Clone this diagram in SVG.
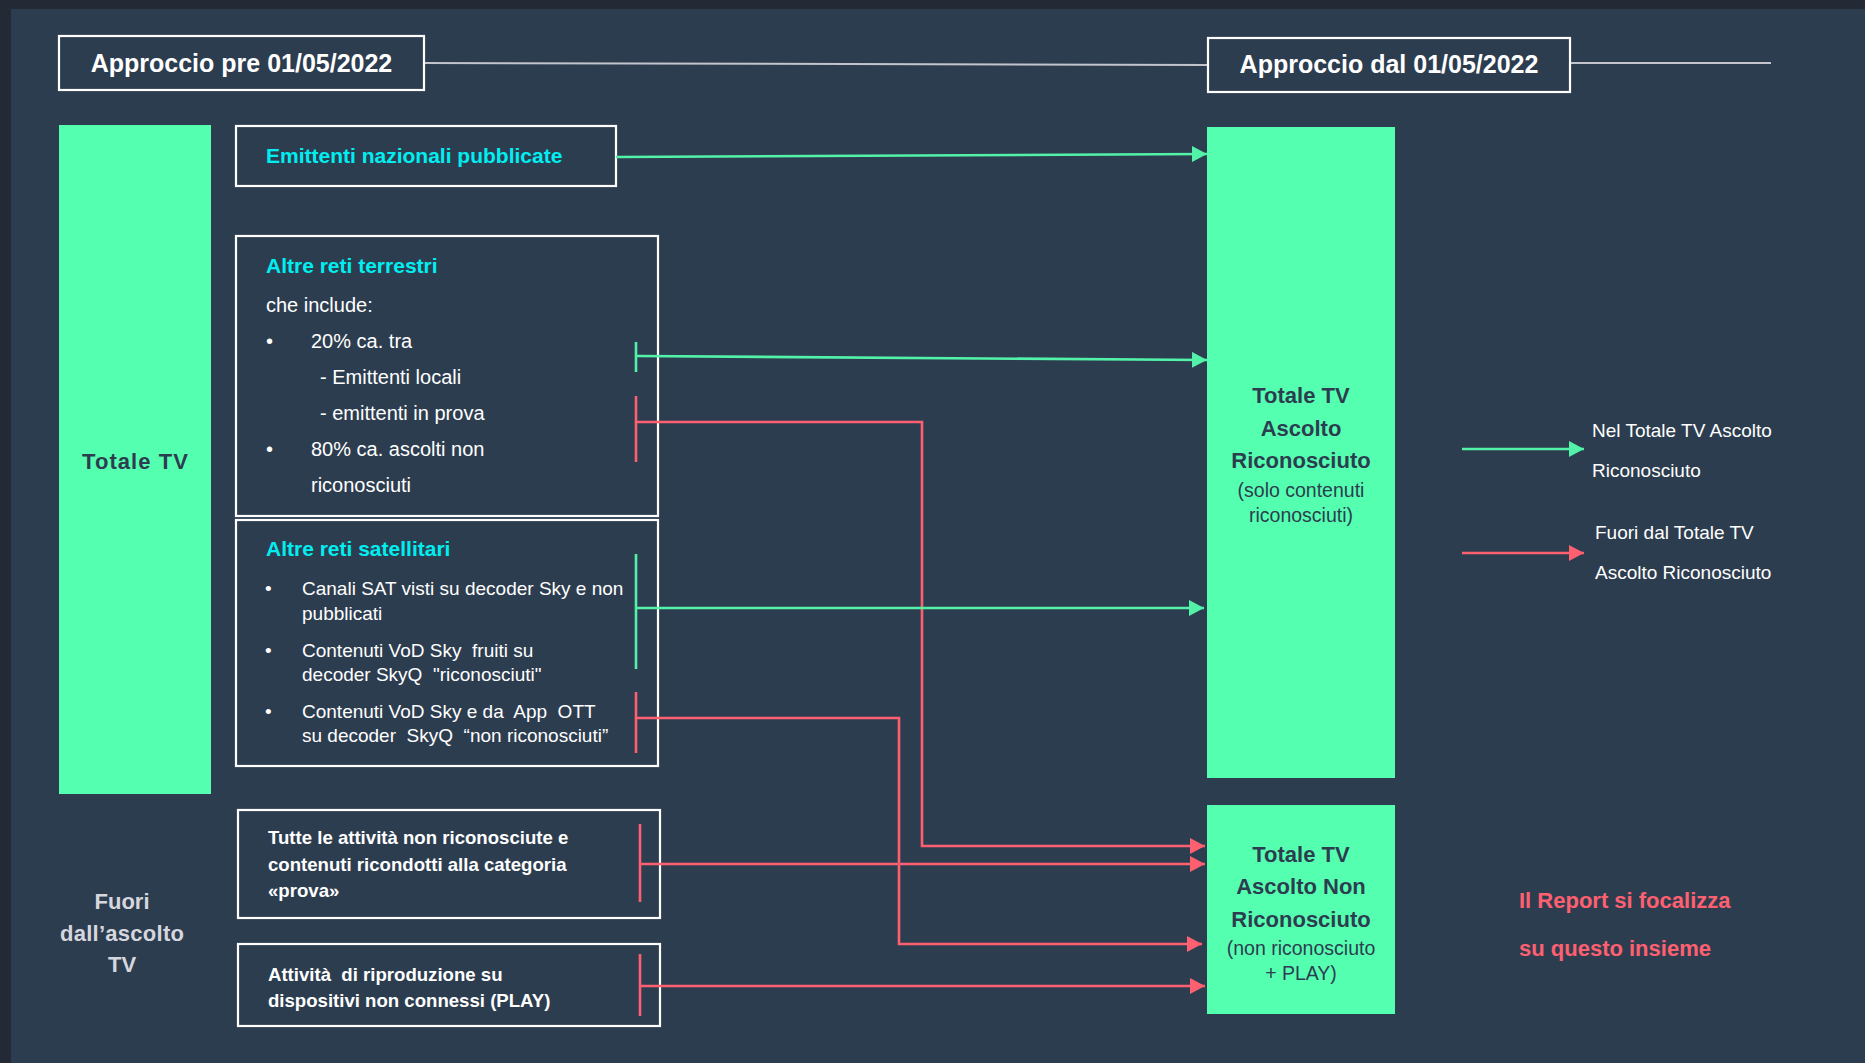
<svg xmlns="http://www.w3.org/2000/svg" width="1865" height="1063" viewBox="0 0 1865 1063">
<defs>
<style>
text{font-family:"Liberation Sans",Arial,sans-serif}
.box{fill:none;stroke:#ffffff;stroke-width:2.2}
.hdr{font-size:25px;font-weight:bold;fill:#ffffff}
.cy{font-size:21px;font-weight:bold;fill:#00eef0}
.wt{font-size:20px;fill:#ffffff}
.ws{font-size:19px;fill:#ffffff}
.wb{font-size:18.6px;font-weight:bold;fill:#ffffff}
.gr{fill:#55ffb0}
.dk{font-size:22px;font-weight:bold;fill:#2d3d50}
.dkr{font-size:19.5px;fill:#2d3d50}
.lg{font-size:19px;fill:#ffffff}
.cg{fill:none;stroke:#52f3a8;stroke-width:2.6}
.cr{fill:none;stroke:#ff6070;stroke-width:2.6}
.gl{fill:none;stroke:#c3c4cc;stroke-width:2}
</style>
<marker id="ag" markerUnits="userSpaceOnUse" markerWidth="16" markerHeight="16" refX="15" refY="8" orient="auto"><path d="M0,0 L15,8 L0,16 Z" fill="#52f3a8"/></marker>
<marker id="ar" markerUnits="userSpaceOnUse" markerWidth="16" markerHeight="16" refX="15" refY="8" orient="auto"><path d="M0,0 L15,8 L0,16 Z" fill="#ff6070"/></marker>
</defs>
<rect x="0" y="0" width="1865" height="1063" fill="#232a35"/>
<rect x="11" y="9" width="1854" height="1054" fill="#2d3d50"/>

<g id="lines-header">
<line class="gl" x1="424" y1="63" x2="1208" y2="65"/>
<line class="gl" x1="1570" y1="63" x2="1771" y2="63"/>
</g>

<g id="hdr-pre">
<rect class="box" x="59" y="36" width="365" height="54"/>
<text class="hdr" x="241.5" y="72" text-anchor="middle">Approccio pre 01/05/2022</text>
</g>
<g id="hdr-dal">
<rect class="box" x="1208" y="38" width="362" height="54"/>
<text class="hdr" x="1389" y="73" text-anchor="middle">Approccio dal 01/05/2022</text>
</g>

<g id="totale-tv">
<rect class="gr" x="59" y="125" width="152" height="669"/>
<text class="dk" x="135" y="469" text-anchor="middle" textLength="106" lengthAdjust="spacing">Totale TV</text>
</g>

<g id="fuori-ascolto">
<text x="122" y="909" text-anchor="middle" font-size="22" font-weight="bold" fill="#d6d7de">Fuori</text>
<text x="122" y="941" text-anchor="middle" font-size="22" font-weight="bold" fill="#d6d7de" textLength="124" lengthAdjust="spacing">dall’ascolto</text>
<text x="122" y="972" text-anchor="middle" font-size="22" font-weight="bold" fill="#d6d7de">TV</text>
</g>

<g id="emittenti">
<rect class="box" x="236" y="126" width="380" height="60"/>
<text class="cy" x="266" y="163">Emittenti nazionali pubblicate</text>
</g>

<g id="terrestri">
<rect class="box" x="236" y="236" width="422" height="280"/>
<text class="cy" x="266" y="273">Altre reti terrestri</text>
<text class="wt" x="266" y="312">che include:</text>
<text class="wt" x="266" y="348">•</text>
<text class="wt" x="311" y="348">20% ca. tra</text>
<text class="wt" x="320" y="384">- Emittenti locali</text>
<text class="wt" x="320" y="420">- emittenti in prova</text>
<text class="wt" x="266" y="456">•</text>
<text class="wt" x="311" y="456">80% ca. ascolti non</text>
<text class="wt" x="311" y="492">riconosciuti</text>
</g>

<g id="satellitari">
<rect class="box" x="236" y="520" width="422" height="246"/>
<text class="cy" x="266" y="556">Altre reti satellitari</text>
<text class="ws" x="265" y="595">•</text>
<text class="ws" x="302" y="595">Canali SAT visti su decoder Sky e non</text>
<text class="ws" x="302" y="620">pubblicati</text>
<text class="ws" x="265" y="657">•</text>
<text class="ws" x="302" y="657" xml:space="preserve">Contenuti VoD Sky  fruiti su</text>
<text class="ws" x="302" y="681" xml:space="preserve">decoder SkyQ  "riconosciuti"</text>
<text class="ws" x="265" y="718">•</text>
<text class="ws" x="302" y="718" xml:space="preserve">Contenuti VoD Sky e da  App  OTT</text>
<text class="ws" x="302" y="742" xml:space="preserve">su decoder  SkyQ  “non riconosciuti”</text>
</g>

<g id="tutte-attivita">
<rect class="box" x="238" y="810" width="422" height="108"/>
<text class="wb" x="268" y="844">Tutte le attività non riconosciute e</text>
<text class="wb" x="268" y="871">contenuti ricondotti alla categoria</text>
<text class="wb" x="268" y="897">«prova»</text>
</g>

<g id="play">
<rect class="box" x="238" y="944" width="422" height="82"/>
<text class="wb" x="268" y="981" xml:space="preserve">Attività  di riproduzione su</text>
<text class="wb" x="268" y="1007">dispositivi non connessi (PLAY)</text>
</g>

<g id="riconosciuto">
<rect class="gr" x="1207" y="127" width="188" height="651"/>
<text class="dk" x="1301" y="403" text-anchor="middle">Totale TV</text>
<text class="dk" x="1301" y="436" text-anchor="middle">Ascolto</text>
<text class="dk" x="1301" y="468" text-anchor="middle">Riconosciuto</text>
<text class="dkr" x="1301" y="497" text-anchor="middle">(solo contenuti</text>
<text class="dkr" x="1301" y="522" text-anchor="middle">riconosciuti)</text>
</g>

<g id="non-riconosciuto">
<rect class="gr" x="1207" y="805" width="188" height="209"/>
<text class="dk" x="1301" y="862" text-anchor="middle">Totale TV</text>
<text class="dk" x="1301" y="894" text-anchor="middle">Ascolto Non</text>
<text class="dk" x="1301" y="927" text-anchor="middle">Riconosciuto</text>
<text class="dkr" x="1301" y="955" text-anchor="middle">(non riconosciuto</text>
<text class="dkr" x="1301" y="980" text-anchor="middle">+ PLAY)</text>
</g>

<g id="legend">
<line class="cg" x1="1462" y1="449" x2="1584" y2="449" marker-end="url(#ag)"/>
<text class="lg" x="1592" y="437">Nel Totale TV Ascolto</text>
<text class="lg" x="1592" y="477">Riconosciuto</text>
<line class="cr" x1="1462" y1="553" x2="1584" y2="553" marker-end="url(#ar)"/>
<text class="lg" x="1595" y="539">Fuori dal Totale TV</text>
<text class="lg" x="1595" y="579">Ascolto Riconosciuto</text>
</g>

<g id="report-note">
<text x="1519" y="908" font-size="22" font-weight="bold" fill="#ff6070">Il Report si focalizza</text>
<text x="1519" y="956" font-size="22" font-weight="bold" fill="#ff6070">su questo insieme</text>
</g>

<g id="connectors">
<line class="cg" x1="616" y1="157" x2="1207" y2="154" marker-end="url(#ag)"/>
<line class="cg" x1="636" y1="342" x2="636" y2="372"/>
<line class="cg" x1="636" y1="356" x2="1207" y2="360" marker-end="url(#ag)"/>
<line class="cr" x1="636" y1="396" x2="636" y2="462"/>
<polyline class="cr" points="636,422 922,422 922,846 1205,846" marker-end="url(#ar)"/>
<line class="cg" x1="636" y1="554" x2="636" y2="669"/>
<line class="cg" x1="636" y1="608" x2="1204" y2="608" marker-end="url(#ag)"/>
<line class="cr" x1="636" y1="692" x2="636" y2="753"/>
<polyline class="cr" points="636,718 899,718 899,944 1202,944" marker-end="url(#ar)"/>
<line class="cr" x1="640" y1="824" x2="640" y2="902"/>
<line class="cr" x1="640" y1="864" x2="1205" y2="864" marker-end="url(#ar)"/>
<line class="cr" x1="640" y1="954" x2="640" y2="1016"/>
<line class="cr" x1="640" y1="986" x2="1205" y2="986" marker-end="url(#ar)"/>
</g>
</svg>
